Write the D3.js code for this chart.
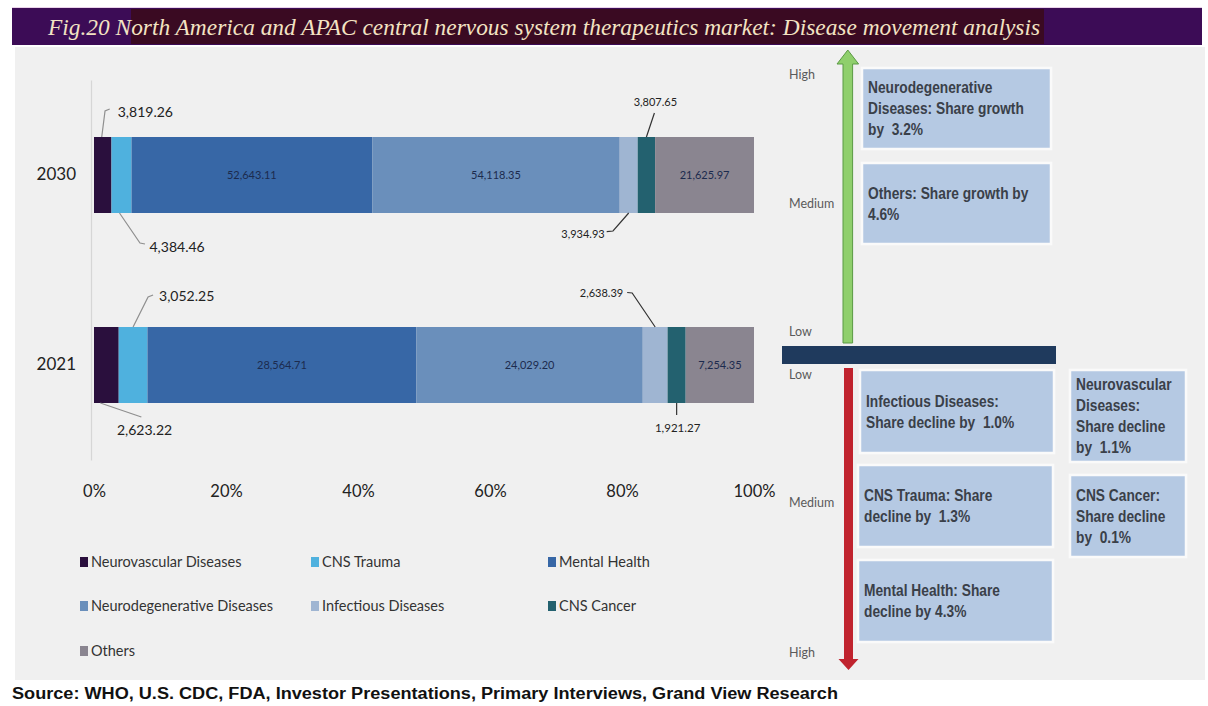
<!DOCTYPE html>
<html>
<head>
<meta charset="utf-8">
<script src="https://cdn.jsdelivr.net/npm/d3@7"></script>
<style>
  body { margin: 0; background: #fff; }
  svg { display: block; }
</style>
</head>
<body>
<svg width="1208" height="706"></svg>
<script>
// chart data
var categories = ["Neurovascular Diseases", "CNS Trauma", "Mental Health", "Neurodegenerative Diseases",
                  "Infectious Diseases", "CNS Cancer", "Others"];
var years = ["2030", "2021"];
var values2030 = [3819.26, 4384.46, 52643.11, 54118.35, 3934.93, 3807.65, 21625.97];
var values2021 = [2623.22, 3052.25, 28564.71, 24029.20, 2638.39, 1921.27, 7254.35];
var colors = ["#2a0f3d", "#4fb1de", "#3767a6", "#6a8fbb", "#9fb5d2", "#23616f", "#8a8590"];
var tickValues = [0, 0.2, 0.4, 0.6, 0.8, 1];
var insideCats = [2, 3, 6];

var title = "Fig.20  North America and APAC central nervous system therapeutics market: Disease movement analysis";
var source = "Source: WHO, U.S. CDC, FDA, Investor Presentations, Primary Interviews, Grand View Research";

// right-hand panel text
var growthLevels = ["High", "Medium", "Low"];
var declineLevels = ["Low", "Medium", "High"];
var growthBoxes = [
  ["Neurodegenerative", "Diseases: Share growth", "by  3.2%"],
  ["Others: Share growth by", "4.6%"]
];
var declineBoxes = [
  ["Infectious Diseases:", "Share decline by  1.0%"],
  ["CNS Trauma: Share", "decline by  1.3%"],
  ["Mental Health: Share", "decline by 4.3%"]
];
var sideBoxes = [
  ["Neurovascular", "Diseases:", "Share decline", "by  1.1%"],
  ["CNS Cancer:", "Share decline", "by  0.1%"]
];

var svg = d3.select("svg");
var sans = "Lato, 'Open Sans', sans-serif";

// backgrounds
svg.append("rect").attr("width", 1208).attr("height", 706).attr("fill", "#fff");
svg.append("rect").attr("x", 15).attr("y", 47).attr("width", 1190).attr("height", 633).attr("fill", "#f0f0f0");

// title bar
svg.append("rect").attr("x", 12).attr("y", 7).attr("width", 1190).attr("height", 1).attr("fill", "#ead3ea");
svg.append("rect").attr("x", 12).attr("y", 8).attr("width", 1190).attr("height", 37).attr("fill", "#3c0c56");
svg.append("rect").attr("x", 131).attr("y", 9).attr("width", 913).attr("height", 35).attr("fill", "#3a0a22");
svg.append("text")
    .attr("x", 48).attr("y", 35)
    .attr("textLength", 992).attr("lengthAdjust", "spacingAndGlyphs")
    .style("font-family", "'Liberation Serif', 'DejaVu Serif', serif")
    .style("font-style", "italic")
    .style("font-size", "23px")
    .attr("fill", "#f3e3c3")
    .text(title);

// source line
svg.append("text")
    .attr("x", 12).attr("y", 699)
    .attr("textLength", 826).attr("lengthAdjust", "spacingAndGlyphs")
    .style("font-family", "'Liberation Sans', Arial, sans-serif")
    .style("font-weight", "bold")
    .style("font-size", "16px")
    .attr("fill", "#111")
    .text(source);

// ---- stacked 100% bar chart ----
var x = d3.scaleLinear().domain([0, 1]).range([94, 754]);
var y = d3.scaleBand().domain(years).range([80, 460]).paddingInner(0.6).paddingOuter(0.3);

var yAxisG = svg.append("g")
    .attr("transform", "translate(91,0)")
    .call(d3.axisLeft(y).tickSize(0).tickPadding(15));
yAxisG.select(".domain").attr("stroke", "#d6d6d6").attr("stroke-width", 1.2);
yAxisG.selectAll("text")
    .style("font-family", sans).style("font-size", "17px").attr("fill", "#222");

var xAxisG = svg.append("g")
    .attr("transform", "translate(0,482)")
    .call(d3.axisBottom(x).tickValues(tickValues).tickFormat(d3.format(".0%")).tickSize(0));
xAxisG.select(".domain").remove();
xAxisG.selectAll("text")
    .style("font-family", sans).style("font-size", "16.5px").attr("fill", "#222");

var seriesByYear = { "2030": values2030, "2021": values2021 };

var rows = years.map(function(yr) {
  var vals = seriesByYear[yr];
  var total = d3.sum(vals);
  var acc = 0;
  return vals.map(function(v, i) {
    var seg = { year: yr, cat: i, value: v, x0: acc / total, x1: (acc + v) / total };
    acc += v;
    return seg;
  });
});
var segments = d3.merge(rows);

svg.append("g").selectAll("rect")
    .data(segments)
  .enter().append("rect")
    .attr("x", function(d) { return x(d.x0); })
    .attr("width", function(d) { return x(d.x1) - x(d.x0); })
    .attr("y", function(d) { return y(d.year); })
    .attr("height", y.bandwidth())
    .attr("fill", function(d) { return colors[d.cat]; });

var fmt = d3.format(",.2f");

// values written inside the wide segments
svg.append("g").selectAll("text")
    .data(segments.filter(function(d) { return insideCats.indexOf(d.cat) >= 0; }))
  .enter().append("text")
    .attr("x", function(d) { return (x(d.x0) + x(d.x1)) / 2; })
    .attr("y", function(d) { return y(d.year) + y.bandwidth() / 2 + 4; })
    .attr("text-anchor", "middle")
    .style("font-family", sans).style("font-size", "11px")
    .attr("fill", "#1c2b4e")
    .text(function(d) { return fmt(d.value); });

// callout labels for the thin segments: leader offsets from segment centre / bar edge
var callouts = [
  { year: "2030", cat: 0, edge: "top", pts: [[-1, 0], [2.3, -26], [7, -28]], tx: 15, ty: -20, anchor: "start", size: 14, stroke: "#8f8f8f" },
  { year: "2030", cat: 1, edge: "bottom", pts: [[-2, 0], [18.5, 30], [23.5, 31]], tx: 28, ty: 39, anchor: "start", size: 14, stroke: "#8f8f8f" },
  { year: "2030", cat: 4, edge: "bottom", pts: [[0, 0], [-15.7, 18], [-22, 18.7]], tx: -24, ty: 24.5, anchor: "end", size: 11, stroke: "#333" },
  { year: "2030", cat: 5, edge: "top", pts: [[0, 0], [8, -24]], tx: 9, ty: -31, anchor: "middle", size: 11, stroke: "#333" },
  { year: "2021", cat: 0, edge: "bottom", pts: [[-6, 0], [35, 14]], tx: 10.6, ty: 32, anchor: "start", size: 14, stroke: "#8f8f8f" },
  { year: "2021", cat: 1, edge: "top", pts: [[0, 0], [15, -30], [20, -32]], tx: 26, ty: -26, anchor: "start", size: 14, stroke: "#8f8f8f" },
  { year: "2021", cat: 4, edge: "top", pts: [[0, 0], [-23, -34], [-28, -34.5]], tx: -32, ty: -30, anchor: "end", size: 11, stroke: "#333" },
  { year: "2021", cat: 5, edge: "bottom", pts: [[0, 0], [0, 12]], tx: 1, ty: 29, anchor: "middle", size: 11.5, stroke: "#333" }
];

var line = d3.line();
var calloutG = svg.append("g");
callouts.forEach(function(c) {
  var seg = segments.filter(function(d) { return d.year === c.year && d.cat === c.cat; })[0];
  var cx = (x(seg.x0) + x(seg.x1)) / 2;
  var ey = c.edge === "top" ? y(c.year) : y(c.year) + y.bandwidth();
  calloutG.append("path")
      .attr("d", line(c.pts.map(function(p) { return [cx + p[0], ey + p[1]]; })))
      .attr("fill", "none")
      .attr("stroke", c.stroke)
      .attr("stroke-width", 1.2);
  calloutG.append("text")
      .attr("x", cx + c.tx).attr("y", ey + c.ty)
      .attr("text-anchor", c.anchor)
      .style("font-family", sans).style("font-size", c.size + "px")
      .attr("fill", "#222")
      .text(fmt(seg.value));
});

// legend, three columns
var legendX = [80, 311, 548], legendY = [562, 606, 651];
var legend = svg.append("g").selectAll("g")
    .data(categories)
  .enter().append("g")
    .attr("transform", function(d, i) {
      return "translate(" + legendX[i % 3] + "," + legendY[Math.floor(i / 3)] + ")";
    });
legend.append("rect")
    .attr("x", 0).attr("y", -5).attr("width", 8).attr("height", 10)
    .attr("fill", function(d, i) { return colors[i]; });
legend.append("text")
    .attr("x", 11).attr("y", 5)
    .style("font-family", sans).style("font-size", "14.5px")
    .attr("fill", "#333")
    .text(function(d) { return d; });

// ---- right-hand movement panel ----
var panel = svg.append("g");

// growth arrow (green, pointing up)
panel.append("path")
    .attr("d", "M843,343 L843,64 L837,64 L847.8,50 L858.6,64 L852.6,64 L852.6,343 Z")
    .attr("fill", "#8fcf6c").attr("stroke", "#5b9a44").attr("stroke-width", 1);

// decline arrow (red, pointing down)
panel.append("path")
    .attr("d", "M844,368 L853,368 L853,659 L858.5,659 L848.5,670 L838.5,659 L844,659 Z")
    .attr("fill", "#c0232e");

// divider band
panel.append("rect").attr("x", 782).attr("y", 346).attr("width", 274).attr("height", 18).attr("fill", "#1f3a5d");

var levelFont = function(sel) {
  sel.style("font-family", sans).style("font-size", "12.5px").attr("fill", "#5a5a5a");
};
panel.selectAll("text.up")
    .data(growthLevels)
  .enter().append("text").attr("class", "up")
    .attr("x", 789)
    .attr("y", function(d, i) { return [79, 208, 336][i]; })
    .call(levelFont)
    .text(function(d) { return d; });
panel.selectAll("text.down")
    .data(declineLevels)
  .enter().append("text").attr("class", "down")
    .attr("x", 789)
    .attr("y", function(d, i) { return [379, 507, 657][i]; })
    .call(levelFont)
    .text(function(d) { return d; });

// narrow bold text: Liberation Sans squeezed horizontally
function drawBox(lines, bx, by, bw, bh) {
  var g = panel.append("g");
  g.append("rect")
      .attr("x", bx).attr("y", by).attr("width", bw).attr("height", bh)
      .attr("fill", "#b5c9e3").attr("stroke", "#fafafa").attr("stroke-width", 2.5);
  var lh = 21;
  var first = by + bh / 2 - (lines.length - 1) * lh / 2 + 5.5;
  g.selectAll("text")
      .data(lines)
    .enter().append("text")
      .attr("transform", function(d, i) {
        return "translate(" + (bx + 6) + "," + (first + i * lh) + ") scale(0.86,1)";
      })
      .style("font-family", "'Liberation Sans', Arial, sans-serif")
      .style("font-weight", "bold").style("font-size", "16px")
      .attr("fill", "#3a4049")
      .style("white-space", "pre")
      .text(function(d) { return d; });
}

drawBox(growthBoxes[0], 862, 68, 189, 81);
drawBox(growthBoxes[1], 862, 163, 189, 81);
drawBox(declineBoxes[0], 860, 370, 194, 83);
drawBox(declineBoxes[1], 858, 465, 195, 82);
drawBox(declineBoxes[2], 858, 560, 195, 82);
drawBox(sideBoxes[0], 1070, 370, 116, 92);
drawBox(sideBoxes[1], 1070, 475, 116, 82);
</script>
</body>
</html>
